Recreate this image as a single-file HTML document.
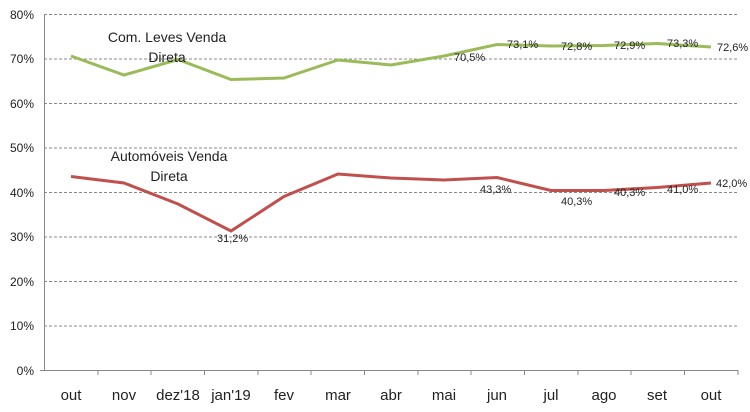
<!DOCTYPE html>
<html><head><style>body{margin:0;background:#fff}svg{display:block}</style></head><body>
<svg width="750" height="412" xmlns="http://www.w3.org/2000/svg" font-family="Liberation Sans, sans-serif">
<g stroke="#888" stroke-dasharray="3,2" stroke-width="1">
<line x1="44" x2="738" y1="14.5" y2="14.5"/><line x1="44" x2="738" y1="59" y2="59"/><line x1="44" x2="738" y1="103.5" y2="103.5"/><line x1="44" x2="738" y1="148" y2="148"/><line x1="44" x2="738" y1="192.5" y2="192.5"/><line x1="44" x2="738" y1="237" y2="237"/><line x1="44" x2="738" y1="281.5" y2="281.5"/><line x1="44" x2="738" y1="326" y2="326"/>
</g>
<g stroke="#888" stroke-width="1">
<line x1="44.5" x2="44.5" y1="14" y2="370"/><line x1="40" x2="738" y1="370.5" y2="370.5"/>
<line x1="98" x2="98" y1="370" y2="375"/><line x1="151" x2="151" y1="370" y2="375"/><line x1="204.5" x2="204.5" y1="370" y2="375"/><line x1="258" x2="258" y1="370" y2="375"/><line x1="311" x2="311" y1="370" y2="375"/><line x1="364.5" x2="364.5" y1="370" y2="375"/><line x1="418" x2="418" y1="370" y2="375"/><line x1="471" x2="471" y1="370" y2="375"/><line x1="524.5" x2="524.5" y1="370" y2="375"/><line x1="578" x2="578" y1="370" y2="375"/><line x1="631" x2="631" y1="370" y2="375"/><line x1="684.5" x2="684.5" y1="370" y2="375"/><line x1="738" x2="738" y1="370" y2="375"/>
</g>
<g font-size="12" fill="#222" text-anchor="end">
<text x="34" y="19">80%</text><text x="34" y="63">70%</text><text x="34" y="108">60%</text><text x="34" y="152">50%</text><text x="34" y="197">40%</text><text x="34" y="241">30%</text><text x="34" y="286">20%</text><text x="34" y="330">10%</text><text x="34" y="375">0%</text>
</g>
<g font-size="15" fill="#222" text-anchor="middle">
<text x="71" y="400">out</text><text x="124" y="400">nov</text><text x="178" y="400">dez'18</text><text x="231" y="400">jan'19</text><text x="284" y="400">fev</text><text x="338" y="400">mar</text><text x="391" y="400">abr</text><text x="444" y="400">mai</text><text x="497" y="400">jun</text><text x="551" y="400">jul</text><text x="604" y="400">ago</text><text x="657" y="400">set</text><text x="711" y="400">out</text>
</g>
<polyline fill="none" stroke="#9BBB59" stroke-width="3" points="71,56 124,75 178,59.5 231,79.5 284,78 338,60 391,65 444,56 497,44.5 551,46 604,45.5 657,43.5 711,47"/>
<polyline fill="none" stroke="#C0504D" stroke-width="3" points="71,176.5 124,183 178,204 231,231 284,196.5 338,174 391,178 444,180 497,177.5 551,190.5 604,190.5 657,187.5 711,183"/>
<g font-size="11" fill="#222">
<text x="454" y="61">70,5%</text><text x="507" y="48">73,1%</text><text x="561" y="50">72,8%</text><text x="614" y="49">72,9%</text><text x="667" y="47">73,3%</text><text x="717" y="51">72,6%</text>
<text x="217" y="242">31,2%</text><text x="480" y="193">43,3%</text><text x="561" y="205">40,3%</text><text x="614" y="196">40,3%</text><text x="667" y="193">41,0%</text><text x="716" y="187">42,0%</text>
</g>
<g font-size="14" fill="#222" text-anchor="middle">
<text x="167" y="42">Com. Leves Venda</text><text x="167" y="62">Direta</text>
<text x="169" y="161">Automóveis Venda</text><text x="169" y="181">Direta</text>
</g>
</svg>
</body></html>
